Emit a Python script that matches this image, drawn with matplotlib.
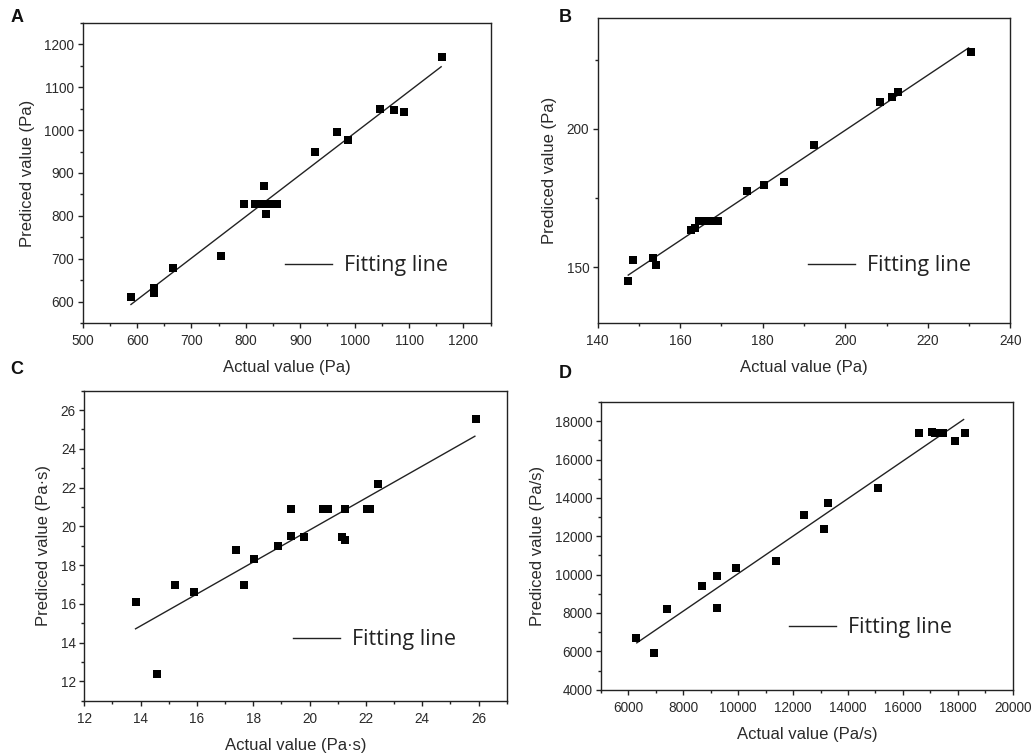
import matplotlib
matplotlib.use("Agg")
import matplotlib.pyplot as plt
from matplotlib.ticker import MultipleLocator, AutoMinorLocator
import numpy as np

# ---------------- data ----------------
a_actual = [588.7, 631.8, 630.5, 665.6, 754.0, 796.9, 816.6, 831.4, 833.8, 837.0,
            846.0, 857.3, 927.3, 966.7, 987.7, 1047.4, 1072.6, 1089.9, 1160.0]
a_pred = [611.6, 633.0, 621.0, 679.0, 706.0, 828.0, 828.0, 828.0, 869.0, 805.0,
          828.0, 828.0, 948.0, 996.0, 977.0, 1050.0, 1047.0, 1042.5, 1169.0]
a_fit_x = [588.7, 1158.9]
a_fit_y = [593.8, 1147.4]

b_actual = [147.4, 148.6, 153.5, 154.1, 162.5, 163.7, 164.6, 165.8, 167.1, 168.2,
            169.2, 176.3, 180.3, 185.1, 192.5, 208.5, 211.4, 212.8, 230.4]
b_pred = [145.0, 152.7, 153.5, 150.7, 163.5, 164.4, 166.8, 166.8, 166.8, 166.8,
          166.8, 177.7, 179.8, 180.7, 194.2, 209.9, 211.7, 213.2, 228.0]
b_fit_x = [147.4, 229.9]
b_fit_y = [147.2, 229.3]

c_actual = [13.84, 14.58, 15.23, 15.89, 17.40, 17.66, 18.02, 18.88, 19.35, 19.35,
            19.79, 20.48, 20.66, 21.14, 21.25, 21.25, 22.05, 22.13, 22.43, 25.90]
c_pred = [16.07, 12.36, 16.98, 16.60, 18.77, 16.98, 18.29, 19.01, 20.90, 19.51,
          19.47, 20.90, 20.90, 19.46, 19.30, 20.90, 20.90, 20.90, 22.17, 25.56]
c_fit_x = [13.82, 25.87]
c_fit_y = [14.71, 24.65]

d_actual = [6280, 6913, 7412, 8678, 9238, 9238, 9920, 11381, 12379, 13134,
            13256, 15106, 16604, 17066, 17176, 17456, 17894, 18247]
d_pred = [6702, 5900, 8184, 9387, 9910, 8271, 10346, 10712, 13083, 12403,
          13728, 14495, 17389, 17459, 17389, 17389, 16988, 17389]
d_fit_x = [6304, 18211]
d_fit_y = [6441, 18086]

panel_labels = ["A", "B", "C", "D"]
x_labels = ["Actual value (Pa)", "Actual value (Pa)", "Actual value (Pa·s)", "Actual value (Pa/s)"]
y_labels = ["Prediced value (Pa)", "Prediced value (Pa)", "Prediced value (Pa·s)", "Prediced value (Pa/s)"]
legend_text = "Fitting line"

# ---------------- style ----------------
plt.rcParams['font.family'] = ['Liberation Sans', 'DejaVu Sans']
TXT = '#2a2a2a'

fig = plt.figure(figsize=(10.32, 7.56), dpi=100)

W, H = 1032.0, 756.0
def rect(l, t, r, b):
    return [l / W, 1 - b / H, (r - l) / W, (b - t) / H]

panels = [
    dict(rect=rect(82.7, 22.7, 490.7, 323.3), x=a_actual, y=a_pred, fx=a_fit_x, fy=a_fit_y,
         xlim=(500, 1250), ylim=(550, 1250), xmaj=100, ymaj=100, xmin=2, ymin=2,
         leg=(0.496, 0.192), lab=(17, 18)),
    dict(rect=rect(597.7, 18.3, 1010.3, 322.7), x=b_actual, y=b_pred, fx=b_fit_x, fy=b_fit_y,
         xlim=(140, 240), ylim=(130, 240), xmaj=20, ymaj=50, xmin=2, ymin=2,
         leg=(0.509, 0.187), lab=(565, 18)),
    dict(rect=rect(84.3, 390.7, 506.7, 700.7), x=c_actual, y=c_pred, fx=c_fit_x, fy=c_fit_y,
         xlim=(12, 27), ylim=(11, 27), xmaj=2, ymaj=2, xmin=2, ymin=2,
         leg=(0.493, 0.197), lab=(17, 370)),
    dict(rect=rect(601, 402, 1012.7, 689.7), x=d_actual, y=d_pred, fx=d_fit_x, fy=d_fit_y,
         xlim=(5000, 20000), ylim=(4000, 19000), xmaj=2000, ymaj=2000, xmin=2, ymin=2,
         leg=(0.456, 0.2145), lab=(565, 373)),
]

for i, p in enumerate(panels):
    ax = fig.add_axes(p['rect'])
    ax.plot(p['fx'], p['fy'], color='#222222', lw=1.0, label=legend_text, zorder=2)
    ax.scatter(p['x'], p['y'], marker='s', s=32, color='black', linewidths=0, zorder=3)
    ax.set_xlim(*p['xlim'])
    ax.set_ylim(*p['ylim'])
    ax.xaxis.set_major_locator(MultipleLocator(p['xmaj']))
    ax.yaxis.set_major_locator(MultipleLocator(p['ymaj']))
    ax.xaxis.set_minor_locator(AutoMinorLocator(p['xmin']))
    ax.yaxis.set_minor_locator(AutoMinorLocator(p['ymin']))
    for s in ax.spines.values():
        s.set_color('#222222')
        s.set_linewidth(1.0)
    ax.tick_params(which='major', direction='out', length=3.5, width=1.0, color='#222222',
                   labelsize=9.8, labelcolor=TXT)
    ax.tick_params(axis='x', which='major', pad=4.5)
    ax.tick_params(axis='y', which='major', pad=2.5)
    ax.tick_params(which='minor', direction='out', length=2, width=1.0, color='#222222')
    ax.set_xlabel(x_labels[i], fontsize=12, color=TXT, labelpad=8.5)
    ax.set_ylabel(y_labels[i], fontsize=12, color=TXT, labelpad=7)
    leg = ax.legend(loc='center left', bbox_to_anchor=p['leg'], frameon=False,
                    borderpad=0, borderaxespad=0, handlelength=2.2, handletextpad=0.55,
                    prop={'family': ['Open Sans', 'DejaVu Sans'], 'size': 15.5})
    for t in leg.get_texts():
        t.set_color('#222222')
    fig.text(p['lab'][0] / W, 1 - p['lab'][1] / H, panel_labels[i], fontsize=13,
             fontweight='bold', ha='center', va='center', color='#111111')

fig.savefig('out.png', dpi=100)
